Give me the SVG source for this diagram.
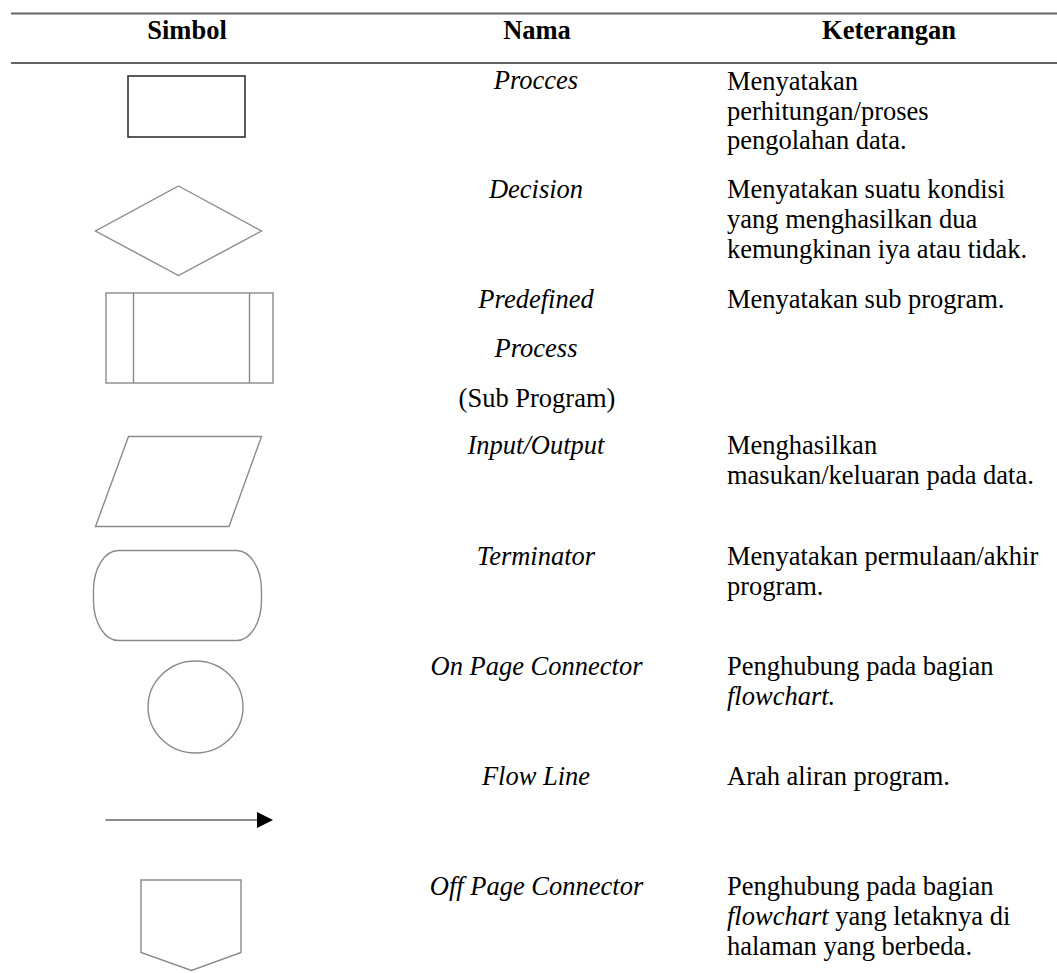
<svg xmlns="http://www.w3.org/2000/svg" width="1057" height="973" viewBox="0 0 1057 973">
<style>
text{font-family:"Liberation Serif","Times New Roman",Times,"Nimbus Roman","DejaVu Serif",serif;font-size:26.5px;fill:#000}
.h{font-weight:bold;text-anchor:middle}
.n{font-style:italic;text-anchor:middle}
.c{text-anchor:middle}
.rule{stroke:#666;stroke-width:2;fill:none}
.sym{fill:#fff;stroke:#8a8a8a;stroke-width:1.4}
.dark{stroke:#333;stroke-width:1.6}
</style>
<defs>
<marker id="arrow" viewBox="0 0 16 16" refX="0" refY="8" markerWidth="16" markerHeight="16" markerUnits="userSpaceOnUse" orient="auto">
<path d="M0,0 L16,8 L0,16 Z" fill="#000"/>
</marker>
</defs>
<rect width="1057" height="973" fill="#fff"/>
<g id="header">
<line class="rule" x1="11" y1="13.5" x2="1057" y2="13.5"/>
<line class="rule" x1="11" y1="63" x2="1057" y2="63"/>
<text class="h" x="187" y="39">Simbol</text>
<text class="h" x="537" y="39">Nama</text>
<text class="h" x="889" y="39">Keterangan</text>
</g>
<g id="process">
<rect class="sym dark" x="128" y="76" width="117" height="61"/>
<text class="n" x="536" y="89">Procces</text>
<text x="727" y="90">Menyatakan</text>
<text x="727" y="119.5">perhitungan/proses</text>
<text x="727" y="149">pengolahan data.</text>
</g>
<g id="decision">
<polygon class="sym" points="178.5,186 261.5,231 178.5,275.5 95.5,231"/>
<text class="n" x="536" y="198">Decision</text>
<text x="727" y="198">Menyatakan suatu kondisi</text>
<text x="727" y="228">yang menghasilkan dua</text>
<text x="727" y="258">kemungkinan iya atau tidak.</text>
</g>
<g id="predefined">
<rect class="sym" x="106" y="293" width="167" height="90"/>
<line class="sym" x1="133.5" y1="293" x2="133.5" y2="383"/>
<line class="sym" x1="249.5" y1="293" x2="249.5" y2="383"/>
<text class="n" x="536" y="308">Predefined</text>
<text class="n" x="536" y="357">Process</text>
<text class="c" x="537" y="406.5">(Sub Program)</text>
<text x="727" y="308">Menyatakan sub program.</text>
</g>
<g id="inputoutput">
<polygon class="sym" points="128.5,436.5 261.5,436.5 229,526.5 95.5,526.5"/>
<text class="n" x="536" y="454">Input/Output</text>
<text x="727" y="453.5">Menghasilkan</text>
<text x="727" y="483.5">masukan/keluaran pada data.</text>
</g>
<g id="terminator">
<rect class="sym" x="93.5" y="550.5" width="168" height="90" rx="25" ry="40"/>
<text class="n" x="536" y="565">Terminator</text>
<text x="727" y="565">Menyatakan permulaan/akhir</text>
<text x="727" y="595">program.</text>
</g>
<g id="onpage">
<ellipse class="sym" cx="195.5" cy="707" rx="47.5" ry="46"/>
<text class="n" x="536.5" y="675">On Page Connector</text>
<text x="727" y="675">Penghubung pada bagian</text>
<text x="727" y="705" font-style="italic">flowchart.</text>
</g>
<g id="connectors">
<line x1="105.5" y1="820" x2="257" y2="820" stroke="#666" stroke-width="1.4" marker-end="url(#arrow)"/>
</g>
<g id="flowline">
<text class="n" x="536" y="785">Flow Line</text>
<text x="727" y="785">Arah aliran program.</text>
</g>
<g id="offpage">
<polygon class="sym" points="141,880 241,880 241,952.5 191.5,970.5 141,952.5"/>
<text class="n" x="536.5" y="895">Off Page Connector</text>
<text x="727" y="895">Penghubung pada bagian</text>
<text x="727" y="925"><tspan font-style="italic">flowchart</tspan> yang letaknya di</text>
<text x="727" y="955">halaman yang berbeda.</text>
</g>
</svg>
